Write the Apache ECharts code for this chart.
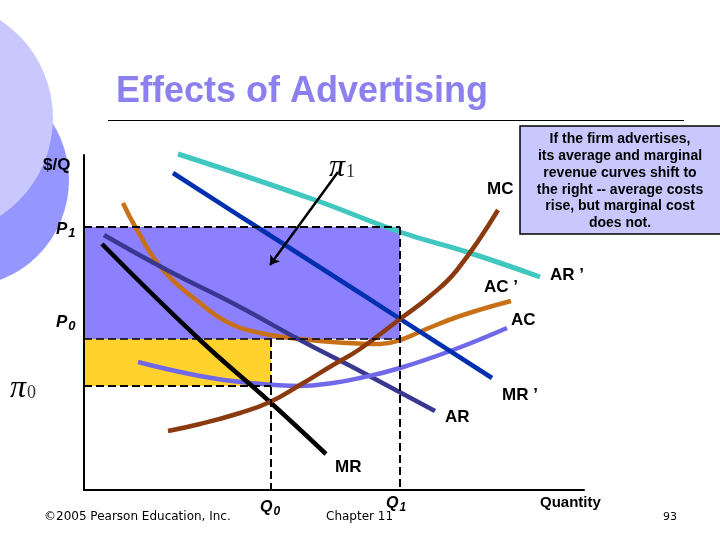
<!DOCTYPE html>
<html lang="en">
<head>
  <meta charset="UTF-8">
  <title>Effects of Advertising</title>
  <script src="https://cdn.jsdelivr.net/npm/echarts@6/dist/echarts.min.js"></script>
  <style>
    html, body { margin: 0; padding: 0; background: #fff; }
    #chart { width: 720px; height: 540px; }
  </style>
</head>
<body>
<div id="chart"></div>
<script>
  // x = quantity, y = $/Q
  const arPrime = [[18.8,67.2],[46.2,58],[63.2,51.6],[77.2,47.4],[91.2,42.6]];
  const mrPrime = [[17.8,63.4],[34.6,52.6],[55.2,39.4],[81.6,22.4]];
  const acPrime = [[7.8,57.4],[10.6,52],[15.8,44],[23.2,37.4],[28.6,33.6],[35.2,31.4],[43.2,30.2],[51,29.5],[59.2,29.2],[63.2,30],[68,32],[75.2,34.8],[85.4,37.8]];
  const ar = [[4,51],[16.6,44],[31.2,36.6],[43.2,30],[55.2,23.8],[70.2,15.8]];
  const mr = [[3.6,49.2],[23.2,30],[37.2,17.6],[48.4,7.2]];
  const ac = [[10.8,25.6],[23.2,22.8],[33.2,21.4],[43.2,20.8],[49.8,21.4],[55.2,22.4],[63.2,24.4],[73.8,28],[84.6,32.4]];
  const mc = [[16.8,11.8],[23.2,13.2],[31.2,15.4],[37.2,17.6],[43.2,21],[49.8,25],[55.2,28.2],[63.2,34.2],[69,38.6],[74.6,44],[82.8,56]];

  const Q0 = 37.4, Q1 = 63.2;
  const P0 = 30.2, P1 = 52.6, AC0 = 20.8;
  const piOneArrow = [[50.8,63.6],[37.2,45]];
  const piZeroPointer = [[-8.2,22.4],[0,25.2]];

  const noteLines = [
    'If the firm advertises,',
    'its average and marginal',
    'revenue curves shift to',
    'the right -- average costs',
    'rise, but marginal cost',
    'does not.'
  ];

  const chart = echarts.init(document.getElementById('chart'), null, { renderer: 'canvas' });

  function curve(name, data, color, width) {
    return {
      name: name, type: 'line', data: data, smooth: 0.45, showSymbol: false, clip: false, silent: true,
      lineStyle: { color: color, width: width || 4.5 }
    };
  }

  function dashed(data, width) {
    return {
      type: 'line', data: data, showSymbol: false, clip: false, silent: true, z: 4,
      lineStyle: { color: '#000', width: width || 2, type: [8, 4] }
    };
  }

  function label(text, x, y, size, extra) {
    return {
      type: 'text', x: x, y: y, z: 20,
      style: Object.assign({
        text: text, fill: '#000', font: 'bold ' + (size || 17) + 'px "Liberation Sans"', textVerticalAlign: 'middle'
      }, extra || {})
    };
  }

  function subLabel(main, sub, x, y, size) {
    return {
      type: 'text', x: x, y: y, z: 20,
      style: {
        text: '{a|' + main + '}{b|' + sub + '}', fill: '#000', textVerticalAlign: 'middle',
        rich: {
          a: { font: 'italic bold ' + size + 'px "Liberation Sans"', fill: '#000' },
          b: { font: 'italic bold ' + (size - 4) + 'px "Liberation Sans"', fill: '#000', verticalAlign: 'bottom', padding: [8, 0, 0, 1] }
        }
      }
    };
  }

  function piLabel(sub, x, y) {
    return {
      type: 'text', x: x, y: y, z: 20,
      style: {
        text: '{a|\u03c0}{b|' + sub + '}', textVerticalAlign: 'middle',
        rich: {
          a: { font: 'italic 32px "Liberation Serif"', fill: '#000' },
          b: { font: '18px "Liberation Serif"', fill: '#333', padding: [8, 0, 0, 1] }
        }
      }
    };
  }

  const graphic = [
    // slide decoration
    { type: 'circle', z: -3, shape: { cx: -38, cy: 180, r: 107 }, style: { fill: '#9696ff' } },
    { type: 'circle', z: -2, shape: { cx: -64, cy: 118, r: 117 }, style: { fill: '#c8c8ff' } },
    { type: 'text', x: 116, y: 92, z: 20, style: {
      text: 'Effects of Advertising', fill: '#8c80f0', font: 'bold 36px "Liberation Sans"', textVerticalAlign: 'middle'
    } },
    { type: 'line', z: 1, shape: { x1: 108, y1: 120.5, x2: 684, y2: 120.5 }, style: { stroke: '#000', lineWidth: 1 } },

    // note box
    { type: 'rect', z: 10, shape: { x: 520, y: 126, width: 201, height: 108 }, style: { fill: '#c8c8ff', stroke: '#000', lineWidth: 1.5 } },
    label('MC', 487, 189),
    label('AR \u2019', 550, 275),
    label('AC \u2019', 484, 287),
    label('AC', 511, 320),
    label('MR \u2019', 502, 395),
    label('AR', 445, 417),
    label('MR', 335, 467),
    label('$/Q', 43, 165, 17),
    subLabel('P', '1', 56, 229, 17),
    subLabel('P', '0', 56, 322, 17),
    subLabel('Q', '0', 260, 508, 16),
    subLabel('Q', '1', 386, 504, 16),
    piLabel('1', 329, 168),
    piLabel('0', 10, 389),
    label('Quantity', 540, 503, 15),
    label('\u00a92005 Pearson Education, Inc.', 44, 517, 12, { font: '12px "DejaVu Sans"' }),
    label('Chapter 11', 326, 517, 12, { font: '12px "DejaVu Sans"' }),
    label('93', 663, 517, 11, { font: '11px "DejaVu Sans"' })
  ];
  noteLines.forEach(function (line, i) {
    graphic.push(label(line, 620, 139 + i * 16.9, 14, { textAlign: 'center' }));
  });

  const option = {
    animation: false,
    backgroundColor: '#fff',
    grid: { left: 84, right: 136, top: 155, bottom: 50 },
    xAxis: {
      type: 'value', min: 0, max: 100, z: 6,
      axisLine: { show: true, onZero: false, lineStyle: { color: '#000', width: 2 } },
      axisTick: { show: false }, axisLabel: { show: false }, splitLine: { show: false }
    },
    yAxis: {
      type: 'value', min: 0, max: 67, z: 6,
      axisLine: { show: true, onZero: false, lineStyle: { color: '#000', width: 2 } },
      axisTick: { show: false }, axisLabel: { show: false }, splitLine: { show: false }
    },
    graphic: graphic,
    series: [
      {
        // profit rectangles
        type: 'line', data: [], silent: true, z: 1,
        markArea: {
          silent: true,
          data: [
            [{ coord: [0, P1], itemStyle: { color: '#8c80ff', opacity: 1 } }, { coord: [Q1, P0] }],
            [{ coord: [0, P0], itemStyle: { color: '#ffd22e', opacity: 1 } }, { coord: [Q0, AC0] }]
          ]
        }
      },
      dashed([[0, P1], [Q1, P1]]),
      dashed([[0, P0], [Q1, P0]], 1.5),
      dashed([[0, AC0], [Q0, AC0]]),
      dashed([[Q0, P0], [Q0, -1]]),
      dashed([[Q1, P1], [Q1, 0]]),
      curve('AR\u2019', arPrime, '#40c8c0', 5),
      curve('AC\u2019', acPrime, '#c87018'),
      curve('AR', ar, '#383890'),
      curve('AC', ac, '#7068e8'),
      curve('MR', mr, '#000'),
      curve('MR\u2019', mrPrime, '#0030b0'),
      curve('MC', mc, '#8b3a10'),
      {
        type: 'line', data: [], silent: true, z: 8,
        markLine: {
          silent: true, symbol: ['none', 'arrow'], symbolSize: 9, label: { show: false },
          lineStyle: { color: '#000', width: 2.5, type: 'solid' },
          data: [[{ coord: piOneArrow[0] }, { coord: piOneArrow[1] }]]
        }
      },
      {
        type: 'line', data: piZeroPointer, showSymbol: false, clip: false, silent: true, z: 8,
        lineStyle: { color: '#000', width: 2 }
      }
    ]
  };

  chart.setOption(option);
</script>
</body>
</html>
